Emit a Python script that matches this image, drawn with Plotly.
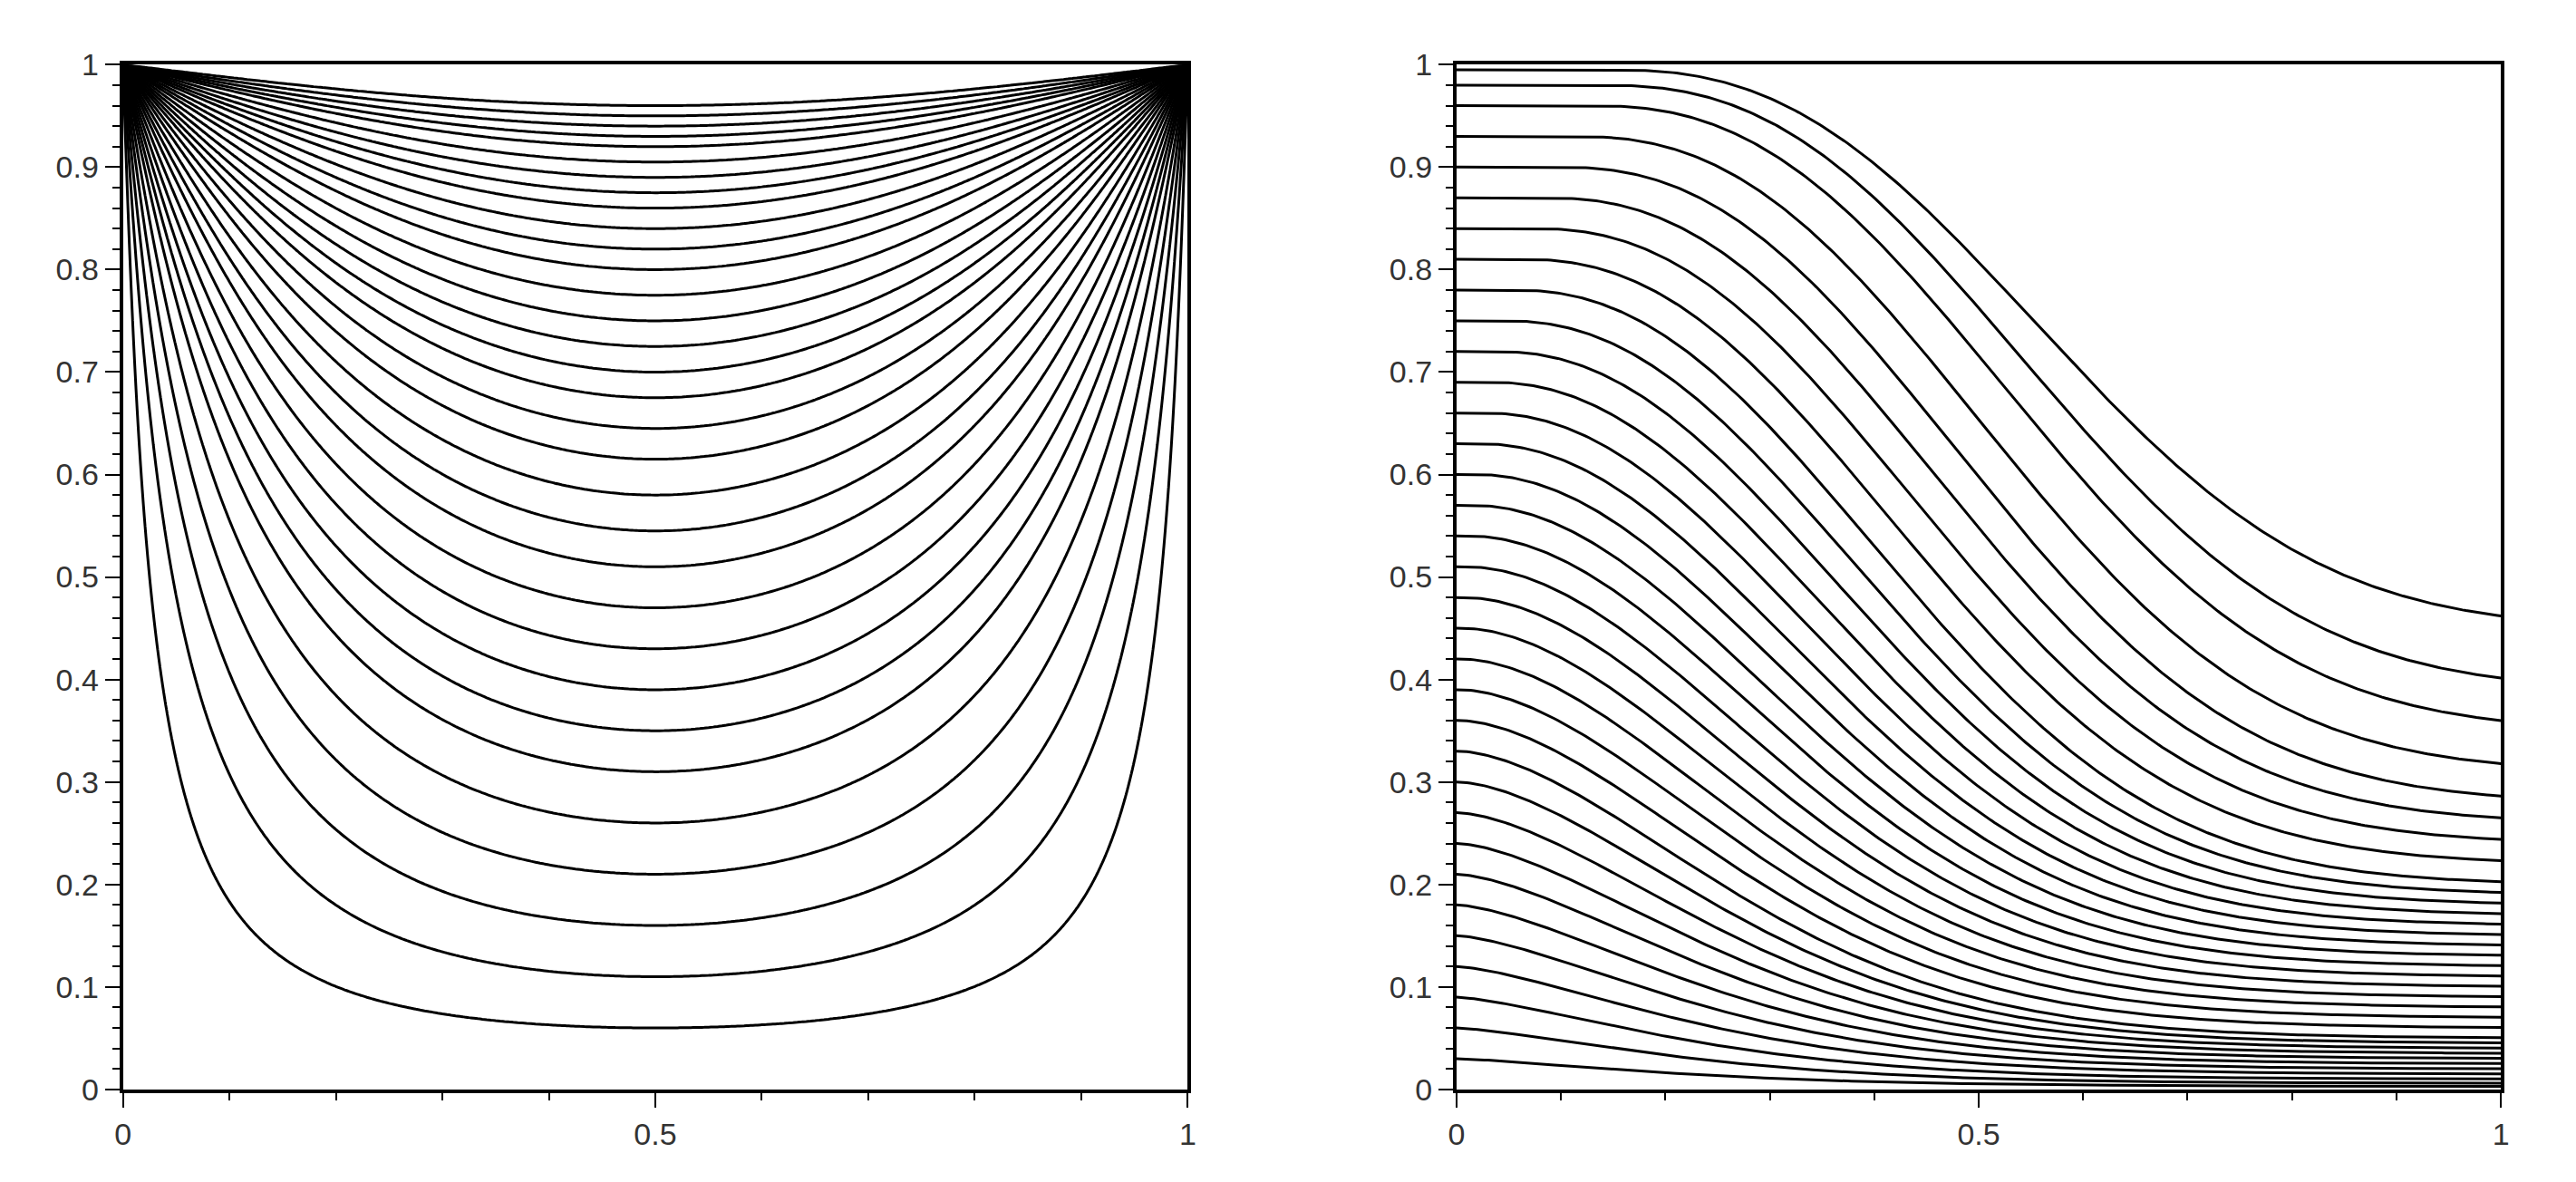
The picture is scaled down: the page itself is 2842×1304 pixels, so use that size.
import numpy as np
import plotly.graph_objects as go

# Left panel: heights at which each contour crosses x = 0.5
left_center_y = [0.06, 0.11, 0.16, 0.21, 0.26, 0.31, 0.35, 0.39, 0.43, 0.47, 0.51,
                 0.545, 0.58, 0.615, 0.645, 0.675, 0.70, 0.725, 0.75, 0.775, 0.80,
                 0.82, 0.84, 0.86, 0.875, 0.89, 0.905, 0.92, 0.93, 0.94, 0.95, 0.96]
# Right panel: each streamline's height at x = 0 and at x = 1
right_start_y = [0.995, 0.98, 0.96, 0.93, 0.90, 0.87, 0.84, 0.81, 0.78, 0.75, 0.72, 0.69,
                 0.66, 0.63, 0.60, 0.57, 0.54, 0.51, 0.48, 0.45, 0.42, 0.39, 0.36, 0.33,
                 0.30, 0.27, 0.24, 0.21, 0.18, 0.15, 0.12, 0.09, 0.06, 0.03]
right_end_y = [0.45, 0.39, 0.35, 0.31, 0.28, 0.26, 0.24, 0.22, 0.20, 0.19, 0.18, 0.17,
               0.16, 0.15, 0.14, 0.13, 0.12, 0.11, 0.10, 0.09, 0.08, 0.07, 0.06, 0.05,
               0.045, 0.04, 0.035, 0.03, 0.025, 0.02, 0.015, 0.01, 0.006, 0.003]
xtick_vals = [0, 0.5, 1]
ytick_vals = [round(0.1 * i, 1) for i in range(11)]

N = 241
g = np.linspace(0, 1, N)
X, Y = np.meshgrid(g, g)
def field(x, y):
    T = np.zeros_like(np.asarray(x, dtype=float))
    for n in range(1, 400, 2):
        k = n * np.pi
        T = T + 4 / k * np.sin(k * x) * (np.exp(k * (y - 1)) - np.exp(-k * (y + 1))) / (1 - np.exp(-2 * k))
    return T
Z = field(X, Y)
Z[-1, 1:-1] = 1.0

fig = go.Figure()
for yc in left_center_y:
    lev = float(field(np.array(0.5), np.array(yc)))
    fig.add_trace(go.Contour(x=g, y=g, z=Z, xaxis="x", yaxis="y", showscale=False,
                             contours=dict(start=lev, end=lev, size=1, coloring="lines"),
                             colorscale=[[0, "black"], [1, "black"]],
                             line=dict(width=3, color="black"), hoverinfo="skip"))

xs = np.linspace(0, 1, 300)
for s, e in zip(right_start_y, right_end_y):
    w = 0.25 + 0.25 * s
    p = 1.3 + 1.2 * s
    h = np.exp(-(np.clip(xs - 0.15 * s ** 4, 0, None) / w) ** p)
    ys = e + (s - e) * h
    fig.add_trace(go.Scatter(x=xs, y=np.minimum(ys, 1), xaxis="x2", yaxis="y2", mode="lines",
                             line=dict(color="black", width=3), showlegend=False, hoverinfo="skip"))

ax = dict(range=[0, 1], showline=True, linecolor="black", linewidth=4, mirror=True,
          ticks="outside", ticklen=16, tickwidth=2, tickcolor="black", showgrid=False,
          zeroline=False, tickfont=dict(family="Liberation Sans", size=34, color="#333"),
          minor=dict(ticks="outside", ticklen=8, tickwidth=2, tickcolor="black"))
xa = dict(ax, tickvals=xtick_vals, ticktext=["0", "0.5", "1"], minor=dict(ax["minor"], dtick=0.1))
ya = dict(ax, tickvals=ytick_vals, ticktext=["0" if v == 0 else ("1" if v == 1 else str(v)) for v in ytick_vals],
          minor=dict(ax["minor"], dtick=0.02))
fig.update_layout(
    width=2842, height=1304, plot_bgcolor="white", paper_bgcolor="white",
    margin=dict(l=0, r=0, t=0, b=0), showlegend=False,
    xaxis=dict(xa, domain=[0.042, 0.458], anchor="y"),
    yaxis=dict(ya, domain=[0.072, 0.965], anchor="x"),
    xaxis2=dict(xa, domain=[0.563, 0.971], anchor="y2"),
    yaxis2=dict(ya, domain=[0.072, 0.965], anchor="x2"),
)
fig.write_html("out.html")
